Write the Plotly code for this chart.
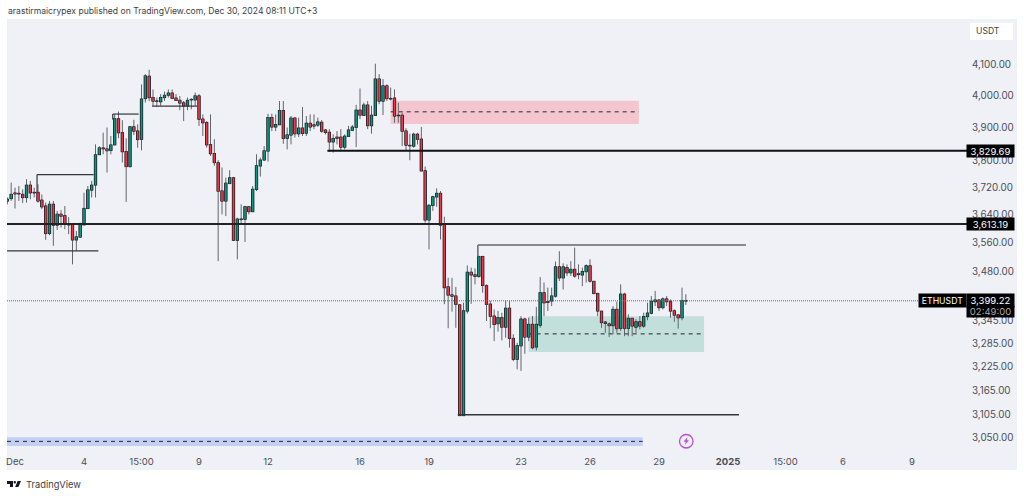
import math
import pandas as pd
import plotly.graph_objects as go

opens=[3680,3687,3703,3702,3699,3690,3726,3705,3705,3682,3665,3586,3670,3610,3641,3637,3613,3611,3568,3576,
3611,3658,3712,3727,3818,3838,3835,3831,3848,3928,3885,3827,3782,3903,3890,3865,3992,4063,3995,3984,
3982,3995,4003,4009,3993,3986,3978,3969,3988,3988,4000,3927,3916,3848,3821,3793,3709,3680,3732,
3748,3567,3626,3627,3663,3649,3714,3784,3802,3829,3932,3903,3910,3954,3868,3878,3930,3882,3899,3884,
3914,3906,3909,3917,3893,3886,3857,3871,3871,3841,3874,3893,3902,3955,3939,3971,3907,3939,4054,3984,
4032,3992,3993,3939,3939,3890,3846,3844,3880,3865,3769,3625,3667,3692,3702,3610,3437,3415,3412,3388,
3103,3372,3477,3470,3466,3521,3440,3390,3358,3338,
3354,3329,3379,3299,3245,3280,3350,3303,3336,3277,3334,3421,3397,3399,3412,3492,3462,3490,3476,3485,
3473,3470,3479,3495,3452,3419,3371,3342,3337,3333,3376,3326,3417,3326,3352,3329,3343,3332,3357,3366,
3397,3401,3381,3404,3397,3372,3361,3354,3399]
highs=[3690,3734,3719,3724,3714,3744,3739,3719,3729,3699,3675,3680,3680,3651,3653,3665,3633,3612,3593,3617,
3704,3724,3739,3849,3844,3885,3901,3875,3942,3951,3924,3868,3906,3925,3911,4037,4070,4084,4021,3995,
4006,4014,4021,4021,4006,4000,3984,3995,3993,4011,4006,3942,3921,3942,3865,3801,3779,3749,3771,3751,
3631,3670,3665,3665,3724,3819,3809,3844,3944,3944,3942,3984,3984,3901,3937,3934,3932,3965,3937,3942,
3942,3932,3924,3896,3896,3880,3890,3896,3880,3906,3909,3972,4024,3979,3984,3969,4104,4070,4054,4037,
4027,4021,3979,3948,3899,3882,3885,3885,3903,3782,3670,3695,3717,3709,3634,3462,3462,3437,3390,3394,
3496,3490,3488,3522,3522,3444,3399,3376,3372,3367,3400,3399,3310,3288,3358,3354,3354,3358,3383,3464,
3449,3435,3435,3507,3536,3502,3499,3508,3546,3499,3490,3499,3513,3453,3421,3372,3345,3341,3385,3397,
3444,3421,3363,3354,3350,3358,3367,3394,3412,3426,3403,3408,3412,3403,3376,3363,3435,3417]
lows=[3670,3680,3658,3680,3674,3675,3685,3690,3675,3656,3568,3581,3551,3596,3603,3598,3584,3499,3536,3574,
3610,3658,3690,3690,3817,3819,3764,3819,3847,3868,3794,3677,3779,3878,3839,3831,3979,3984,3969,3966,
3969,3984,3995,3990,3984,3955,3921,3955,3958,3969,3906,3875,3839,3814,3784,3508,3641,3636,3729,3565,
3513,3612,3562,3641,3649,3709,3752,3799,3797,3890,3890,3909,3851,3834,3849,3870,3872,3875,3875,3890,
3896,3903,3885,3880,3826,3824,3849,3829,3834,3872,3890,3841,3927,3937,3896,3882,3937,3974,3940,3984,
3986,3916,3916,3844,3832,3801,3839,3849,3824,3617,3541,3651,3663,3569,3390,3326,3370,3327,3103,3102,
3365,3391,3444,3462,3421,3345,3326,3292,3317,3294,3301,3275,3240,3219,3215,3259,3292,3271,3268,3327,
3358,3372,3385,3408,3453,3430,3467,3467,3462,3458,3439,3449,3449,3417,3358,3327,3314,3303,3310,3314,
3319,3305,3305,3305,3314,3323,3327,3347,3363,3385,3372,3376,3385,3354,3343,3325,3347,3388]
closes=[3685,3699,3701,3701,3690,3726,3704,3704,3680,3663,3586,3670,3610,3641,3636,3612,3611,3568,3576,3611,
3658,3712,3726,3817,3838,3836,3830,3847,3928,3885,3827,3782,3903,3890,3864,3990,4064,3995,3984,3983,
3995,4002,4009,3993,3986,3978,3969,3986,3989,4000,3927,3916,3848,3821,3794,3709,3680,3732,3748,3567,
3627,3627,3663,3649,3714,3784,3801,3829,3932,3903,3910,3954,3868,3878,3930,3882,3899,3883,3914,3903,
3909,3918,3890,3886,3857,3867,3868,3841,3874,3893,3902,3955,3940,3971,3907,3939,4054,3984,4032,3992,
3991,3937,3938,3890,3847,3845,3880,3865,3769,3625,3667,3692,3702,3610,3435,3415,3412,3390,3103,3372,
3477,3470,3466,3521,3441,3390,3358,3336,3354,3329,3379,3299,3245,3280,3350,3303,3336,3275,3336,3421,
3394,3395,3412,3492,3462,3492,3476,3485,3467,3471,3479,3495,3453,3419,3372,3341,3339,3333,3376,3325,
3417,3326,3352,3332,3343,3332,3357,3366,3398,3401,3381,3404,3397,3372,3361,3354,3400,3399.22]

y_ticks=[4100,4000,3900,3800,3720,3640,3560,3480,3345,3285,3225,3165,3105,3050]
y_labels=[f"{v:,.2f}" for v in y_ticks]
x_ticks=["2024-12-01 03:00","2024-12-04 03:00","2024-12-06 15:00","2024-12-09 03:00","2024-12-12 03:00","2024-12-16 03:00","2024-12-19 03:00","2024-12-23 03:00","2024-12-26 03:00","2024-12-29 03:00","2025-01-01 03:00","2025-01-03 15:00","2025-01-06 03:00","2025-01-09 03:00"]
x_labels=["Dec","4","15:00","9","12","16","19","23","26","29","<b>2025</b>","15:00","6","9"]
times=list(pd.date_range("2024-11-30 19:00",periods=len(opens),freq="4h"))

W,H_,L_,R,T,B=1024,496,7,967,20,453
px=lambda x:(x-L_)/(R-L_)
py=lambda y:(B-y)/(B-T)
lg=math.log10
FONT="Inter"
TXT="#4a4d57"
GREEN,RED,EDGE="#089981","#f23645","#1c2026"

fig=go.Figure()
# wicks
fig.add_candlestick(x=times,open=opens,high=highs,low=lows,close=closes,
    increasing=dict(line=dict(color="#62646c",width=1),fillcolor="#62646c"),
    decreasing=dict(line=dict(color="#62646c",width=1),fillcolor="#62646c"),
    whiskerwidth=0,hoverinfo="skip")
# bodies: dark edge, then colour
def stack(idx,pad):
    xs,ys=[],[]
    for i in idx:
        xs+=[times[i],times[i],None]
        ys+=[max(opens[i],closes[i])*(1+pad),min(opens[i],closes[i])*(1-pad),None]
    return xs,ys
every=range(len(opens))
xs,ys=stack(every,0.00045)
fig.add_scatter(x=xs,y=ys,mode="lines",line=dict(color=EDGE,width=3.3),hoverinfo="skip",connectgaps=False)
up=[i for i in every if closes[i]>=opens[i]]
dn=[i for i in every if closes[i]<opens[i]]
for idx,col in ((up,GREEN),(dn,RED)):
    xs,ys=stack(idx,0)
    fig.add_scatter(x=xs,y=ys,mode="lines",line=dict(color=col,width=1.7),hoverinfo="skip",connectgaps=False)

XL,XR="2024-11-30 18:39","2025-01-11 12:23"
shapes=[dict(type="rect",xref="paper",yref="paper",x0=px(7),x1=px(1017),y0=py(19),y1=py(470),fillcolor="#eff1f6",line_width=0,layer="below")]
def zone(x0,x1,top,bot,col,mid):
    shapes.append(dict(type="rect",x0=x0,x1=x1,y0=bot,y1=top,fillcolor=col,line_width=0,layer="below",xref="x",yref="y"))
    shapes.append(dict(type="line",x0=x0,x1=x1,y0=mid,y1=mid,line=dict(color="#22262b",width=1,dash="4px,4px"),xref="x",yref="y",layer="below"))
def seg(x0,y0,x1,y1,col="#33363b",w=1.2):
    shapes.append(dict(type="line",x0=x0,x1=x1,y0=y0,y1=y1,line=dict(color=col,width=w),xref="x",yref="y",layer="above"))
zone("2024-12-17 11:00","2024-12-28 06:00",3985,3912,"#f4c5ce",3950)
zone("2024-12-23 11:00","2024-12-31 02:00",3358,3264,"#c2dfdc",3311)
zone(XL,"2024-12-28 10:00",3050,3029,"#c3cff5",3040)
seg("2024-12-14 17:00",3829.69,XR,3829.69,"#111111",1.8)
seg(XL,3613.19,XR,3613.19,"#222222",1.8)
seg(XL,3399.22,XR,3399.22,"#666666",1)
shapes[-1]["line"]["dash"]="1px,1px"
seg(XL,3537,"2024-12-04 18:00",3537)
seg("2024-12-02 02:00",3705,"2024-12-02 02:00",3758)
seg("2024-12-02 02:00",3758,"2024-12-04 13:00",3758)
seg("2024-12-05 09:00",3926,"2024-12-05 09:00",3943)
seg("2024-12-05 09:00",3943,"2024-12-06 12:00",3943)
seg("2024-12-07 02:00",3968,"2024-12-09 01:00",3968)
seg("2024-12-21 06:00",3520,"2024-12-21 06:00",3553,"#666666",1.5)
seg("2024-12-21 06:00",3553,"2025-01-01 21:45",3553,"#666666",1.5)
seg("2024-12-20 09:00",3105,"2025-01-01 14:30",3105,"#33363b",1.5)
# decorations
def prect(x0,y0,x1,y1,col):
    shapes.append(dict(type="rect",xref="paper",yref="paper",x0=px(x0),x1=px(x1),y0=py(y0),y1=py(y1),fillcolor=col,line_width=0,layer="above"))
prect(970,23,1013,40,"#ffffff")
shapes.append(dict(type="circle",xref="paper",yref="paper",x0=px(679.5),x1=px(693),y0=py(434.5),y1=py(448),fillcolor="rgba(0,0,0,0)",line=dict(color="#b84fd0",width=1.3)))
def pth(pts):
    return "M "+" L ".join(f"{px(a):.5f},{py(b):.5f}" for a,b in pts)+" Z"
shapes.append(dict(type="path",xref="paper",yref="paper",path=pth([(687.5,437),(683.5,441.8),(685.8,441.8),(684.8,445),(689,440.3),(686.7,440.3)]),fillcolor="#b84fd0",line_width=0))
shapes.append(dict(type="path",xref="paper",yref="paper",path=pth([(7,481),(13,481),(13,487),(10,487),(10,484),(7,484)]),fillcolor="#131722",line_width=0))
shapes.append(dict(type="circle",xref="paper",yref="paper",x0=px(13.6),x1=px(16),y0=py(481),y1=py(483.4),fillcolor="#131722",line_width=0))
shapes.append(dict(type="path",xref="paper",yref="paper",path=pth([(17.6,481),(21,481),(18.4,487),(15.2,487)]),fillcolor="#131722",line_width=0))

ann=[]
def text(x,y,s,size=10,col=TXT,anchor="left"):
    ann.append(dict(xref="paper",yref="paper",x=px(x),y=py(y),text=s,showarrow=False,xanchor=anchor,yanchor="middle",font=dict(family=FONT,size=size,color=col),borderpad=0))
text(7,11,"arastirmaicrypex published on TradingView.com, Dec 30, 2024 08:11 UTC+3",8.6,"#3b3e46")
text(25,484,"TradingView",9.3,"#3b3e46")
text(975,31,"USDT",8.6,"#3b3e46")
def tag(x,w,h,price,s,size=9.5,col="#ffffff",yshift=0):
    ann.append(dict(xref="paper",yref="y",x=px(x),y=lg(price),text=s,showarrow=False,xanchor="left",yanchor="middle",yshift=yshift,width=w,height=h,align="center",bgcolor="#000000",borderpad=0,font=dict(family=FONT,size=size,color=col)))
tag(966,47,12,3829.69,"3,829.69")
tag(966,47,12,3613.19,"3,613.19")
tag(918,47,13,3399.22,"ETHUSDT",8.7)
tag(966,47,11,3399.22,"02:49:00",9.5,"#a9a9a9",-11)
tag(966,47,13,3399.22,"3,399.22")

fig.update_layout(width=W,height=H_,autosize=False,margin=dict(l=L_,r=W-R,t=T,b=H_-B,pad=0),
    paper_bgcolor="#ffffff",plot_bgcolor="rgba(0,0,0,0)",showlegend=False,shapes=shapes,annotations=ann,
    font=dict(family=FONT,size=10,color=TXT),
    xaxis=dict(type="date",range=[XL,XR],rangeslider_visible=False,showgrid=False,zeroline=False,showline=False,tickmode="array",tickvals=x_ticks,ticktext=x_labels,ticks="",tickangle=0,ticklabelstandoff=1,tickfont=dict(family=FONT,size=9.5,color=TXT)),
    yaxis=dict(type="log",side="right",range=[lg(3012),lg(4249)],showgrid=False,zeroline=False,showline=False,tickmode="array",tickvals=y_ticks,ticktext=y_labels,ticks="",ticklabelstandoff=4,tickfont=dict(family=FONT,size=9.8,color=TXT)))
fig.write_html("out.html",config=dict(displayModeBar=False),post_script="document.body.style.margin='0';")
